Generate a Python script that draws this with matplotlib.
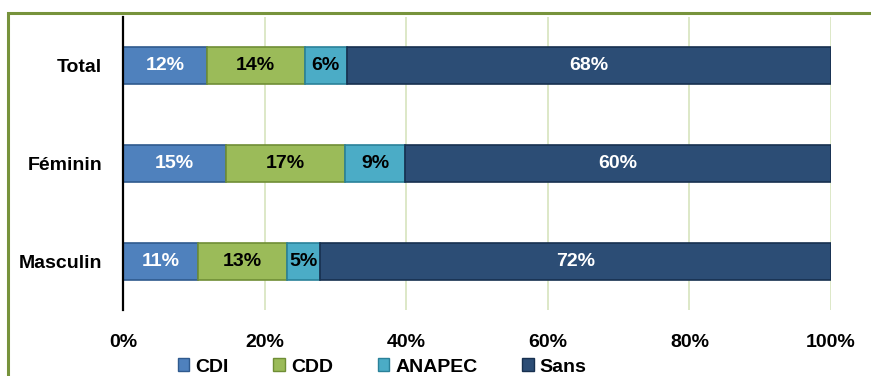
import matplotlib
matplotlib.use("Agg")
import matplotlib.pyplot as plt
from matplotlib.patches import Rectangle, Patch
import numpy as np

categories = ["Total", "Féminin", "Masculin"]
series_names = ["CDI", "CDD", "ANAPEC", "Sans"]
cdi = [11.8, 14.6, 10.6]
cdd = [13.9, 16.7, 12.6]
anapec = [5.9, 8.6, 4.6]
sans = [68.4, 60.1, 72.2]
labels = [["12%", "15%", "11%"], ["14%", "17%", "13%"], ["6%", "9%", "5%"], ["68%", "60%", "72%"]]
xticks = [0, 20, 40, 60, 80, 100]
xticklabels = ["0%", "20%", "40%", "60%", "80%", "100%"]

colors = ["#4F81BD", "#9BBB59", "#4BACC6", "#2C4D75"]
edges = ["#2F5A8E", "#6F8E35", "#2A8199", "#17304F"]
txtcol = ["white", "black", "black", "white"]

plt.rcParams['font.family'] = ['Liberation Sans', 'DejaVu Sans']
plt.rcParams['font.weight'] = 'bold'
fs = 14
fig = plt.figure(figsize=(8.71, 3.76), dpi=100)
ax = fig.add_axes([123/871, 1-310/376, (831-123)/871, (310-17)/376])

y = np.arange(len(categories))
data = [cdi, cdd, anapec, sans]
left = np.zeros(len(categories))
for i, vals in enumerate(data):
    vals = np.array(vals)
    bars = ax.barh(y, vals, left=left, height=0.38, color=colors[i],
                   edgecolor=edges[i], linewidth=1.2, zorder=3)
    for j, b in enumerate(bars):
        ax.text(left[j] + vals[j]/2, y[j], labels[i][j], ha='center', va='center',
                color=txtcol[i], fontsize=fs, fontweight='bold', zorder=4)
    left = left + vals

ax.set_ylim(2.5, -0.5)
ax.set_xlim(0, 100)
ax.set_yticks(y)
ax.set_yticklabels(categories, fontsize=fs, fontweight='bold')
ax.set_xticks(xticks)
ax.set_xticklabels(xticklabels, fontsize=fs, fontweight='bold')
ax.tick_params(axis='both', length=0)
ax.tick_params(axis='y', pad=15)
ax.tick_params(axis='x', pad=17)
for s in ['top', 'right', 'bottom']:
    ax.spines[s].set_visible(False)
ax.spines['left'].set_color('black')
ax.spines['left'].set_linewidth(1.6)
ax.spines['left'].set_zorder(5)
ax.grid(axis='x', color='#D7E4BD', linewidth=1.2, zorder=0)
ax.set_axisbelow(True)

handles = [Patch(facecolor=colors[i], edgecolor=edges[i], label=series_names[i]) for i in range(4)]
fig.legend(handles=handles, loc='center left', bbox_to_anchor=(168/871, 1-367/376),
           ncol=4, frameon=False, prop={'weight': 'bold', 'size': fs},
           columnspacing=2.3, handlelength=0.6, handleheight=0.6, handletextpad=0.3,
           borderpad=0.0)

fig.patches.append(Rectangle((8/871, -0.1), 1.2, 0.1 + (1-13/376), transform=fig.transFigure,
                             fill=False, edgecolor='#77933C', linewidth=2.2, zorder=10))

fig.savefig("out.png", dpi=100)
